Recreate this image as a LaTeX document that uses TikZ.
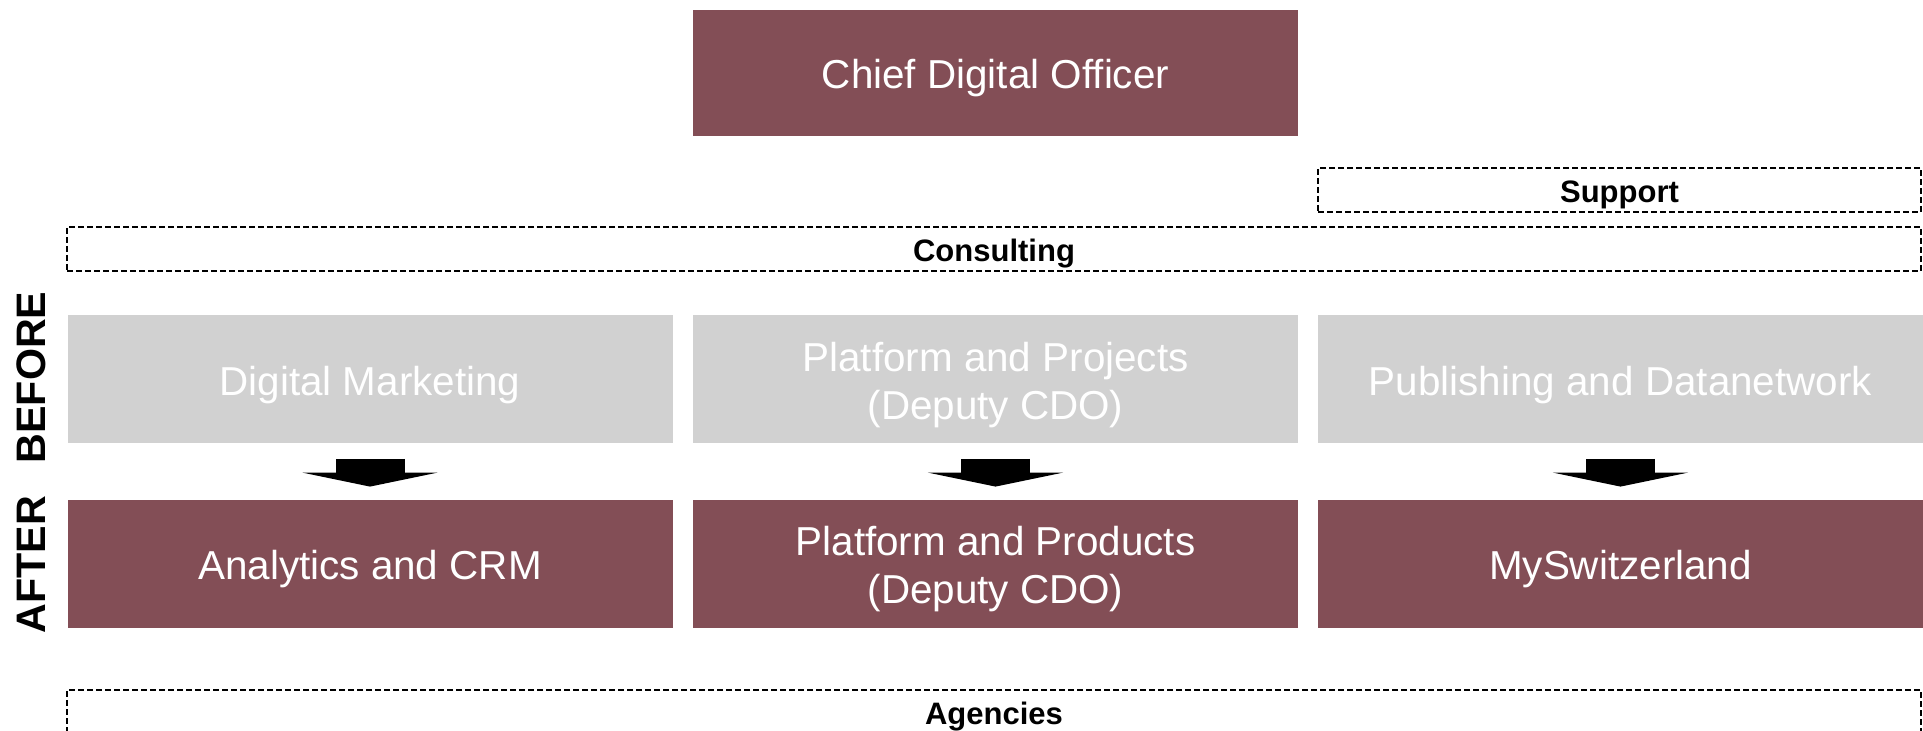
\documentclass[tikz,border=0pt]{standalone}
\usepackage{fontspec}
\setmainfont{Liberation Sans}
\usetikzlibrary{arrows.meta}
\definecolor{wine}{RGB}{131,78,86}
\definecolor{lightgrey}{RGB}{209,209,209}

\begin{document}
\begin{tikzpicture}[x = 0.5pt, y = -0.5pt,
	unit/.style = {fill = wine, text = white, minimum width = 302.5pt, minimum height = 64pt,
		inner sep = 0pt, text height = 16pt, text depth = 0pt, align = center,
		font = \fontsize{20.2}{24}\selectfont},
	old/.style = {unit, fill = lightgrey},
	twoline/.style = {text height = 40pt},
	band/.style = {draw, dashed, dash pattern = on 3pt off 1.5pt, line width = 0.6pt,
		minimum height = 22pt, inner sep = 0pt, text height = 12.5pt, text depth = 0pt,
		font = \fontsize{15.5}{18}\selectfont\bfseries},
	move/.style = {line width = 34.5pt, -{Triangle[width = 67.5pt, length = 7pt]}},
	phase/.style = {rotate = 90, font = \fontsize{20.6}{24}\selectfont\bfseries}]
	\useasboundingbox (0,0) rectangle (1923,731);

	\node[unit, minimum height = 63pt](cdo) at (995.5,73) {Chief Digital Officer};

	\node[band, minimum width = 301.5pt](support) at (1619.5,190) {Support};
	\node[band, minimum width = 927pt](consulting) at (994,249) {Consulting};

	% before
	\node[old](dm) at (370,379.5) {Digital Marketing};
	\node[old, twoline](pp) at (995.5,379.5) {Platform and Projects\\(Deputy CDO)};
	\node[old](pd) at (1620.5,379.5) {Publishing and Datanetwork};

	% after
	\node[unit](ac) at (370,564) {Analytics and CRM};
	\node[unit, twoline](pr) at (995.5,564) {Platform and Products\\(Deputy CDO)};
	\node[unit](ms) at (1620.5,564) {MySwitzerland};

	\node[band, minimum width = 927pt](agencies) at (994,712) {Agencies};

	\node[phase](before) at (31,377.5) {BEFORE};
	\node[phase](after) at (31,564.5) {AFTER};

	\draw[move] ([yshift = -7.5pt]dm.south) -- ([yshift = 6.5pt]ac.north);
	\draw[move] ([yshift = -7.5pt]pp.south) -- ([yshift = 6.5pt]pr.north);
	\draw[move] ([yshift = -7.5pt]pd.south) -- ([yshift = 6.5pt]ms.north);
\end{tikzpicture}
\end{document}
